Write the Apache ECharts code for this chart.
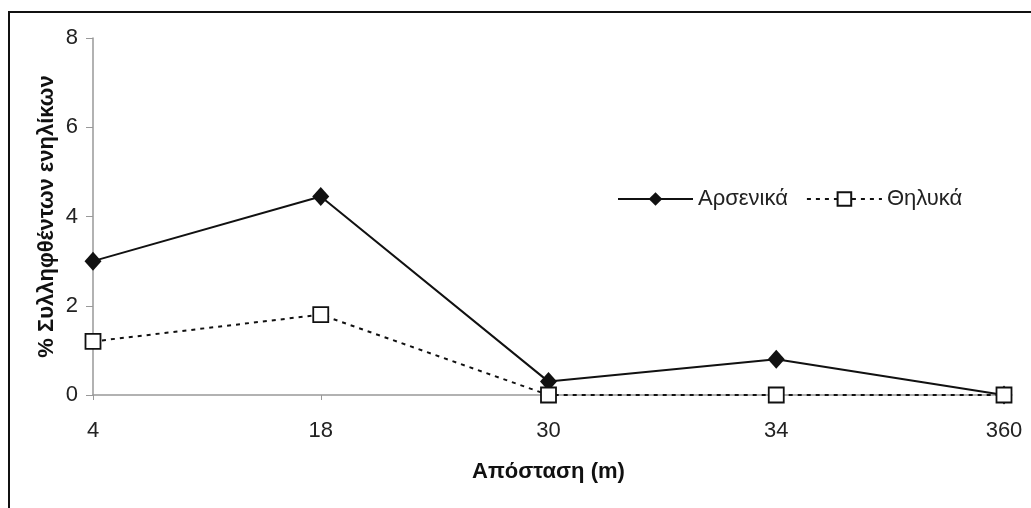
<!DOCTYPE html>
<html>
<head>
<meta charset="utf-8">
<script src="https://cdn.jsdelivr.net/npm/echarts@6/dist/echarts.min.js"></script>
<style>
  html, body { margin: 0; padding: 0; background: #fff; }
  #chart { width: 1031px; height: 508px; }
</style>
</head>
<body>
<div id="chart"></div>
<script>
  // distance classes (m)
  const categories = ['4', '18', '30', '34', '360']
  // % of adults captured
  const males = [3.0, 4.45, 0.3, 0.8, 0]
  const females = [1.2, 1.8, 0, 0, 0]
  const yTicks = { min: 0, max: 8, interval: 2 }

  const font = '"Liberation Sans", Arial, sans-serif'
  const myChart = echarts.init(document.getElementById('chart'))

  myChart.setOption({
    backgroundColor: '#fff',
    animation: false,
    textStyle: { fontFamily: font },
    graphic: [
      {
        type: 'rect',
        shape: { x: 9, y: 12, width: 1200, height: 700 },
        style: { fill: 'none', stroke: '#111', lineWidth: 2 },
        silent: true
      }
    ],
    grid: {
      left: 93,
      right: 27,
      top: 38,
      bottom: 113
    },
    legend: {
      left: 612,
      top: 183,
      itemWidth: 75,
      itemHeight: 17,
      itemGap: 18,
      textStyle: { fontSize: 22, color: '#222', fontFamily: font },
      data: ['Αρσενικά', 'Θηλυκά']
    },
    xAxis: {
      type: 'category',
      boundaryGap: false,
      data: categories,
      name: 'Απόσταση (m)',
      nameLocation: 'middle',
      nameGap: 66,
      nameMoveOverlap: false,
      nameTextStyle: { fontSize: 22, fontWeight: 'bold', color: '#111', fontFamily: font },
      axisLine: { lineStyle: { color: '#999', width: 1.5 } },
      axisTick: { show: true, length: 5, lineStyle: { color: '#999' } },
      axisLabel: { fontSize: 22, color: '#222', margin: 25, fontFamily: font },
      splitLine: { show: false }
    },
    yAxis: {
      type: 'value',
      min: yTicks.min,
      max: yTicks.max,
      interval: yTicks.interval,
      name: '% Συλληφθέντων ενηλίκων',
      nameLocation: 'middle',
      nameGap: 35,
      nameMoveOverlap: false,
      nameTextStyle: { fontSize: 22, fontWeight: 'bold', color: '#111', fontFamily: font },
      axisLine: { show: true, lineStyle: { color: '#999', width: 1.5 } },
      axisTick: { show: true, length: 7, lineStyle: { color: '#999' } },
      axisLabel: { fontSize: 22, color: '#222', margin: 15, fontFamily: font },
      splitLine: { show: false }
    },
    series: [
      {
        name: 'Αρσενικά',
        type: 'line',
        data: males,
        symbol: 'diamond',
        symbolSize: [17, 19],
        lineStyle: { color: '#111', width: 2 },
        itemStyle: { color: '#111' },
        z: 3
      },
      {
        name: 'Θηλυκά',
        type: 'line',
        data: females,
        symbol: 'rect',
        symbolSize: 15,
        lineStyle: { color: '#111', width: 2, type: [4, 5] },
        itemStyle: { color: '#fff', borderColor: '#111', borderWidth: 1.8 },
        z: 4
      }
    ]
  })
</script>
</body>
</html>
